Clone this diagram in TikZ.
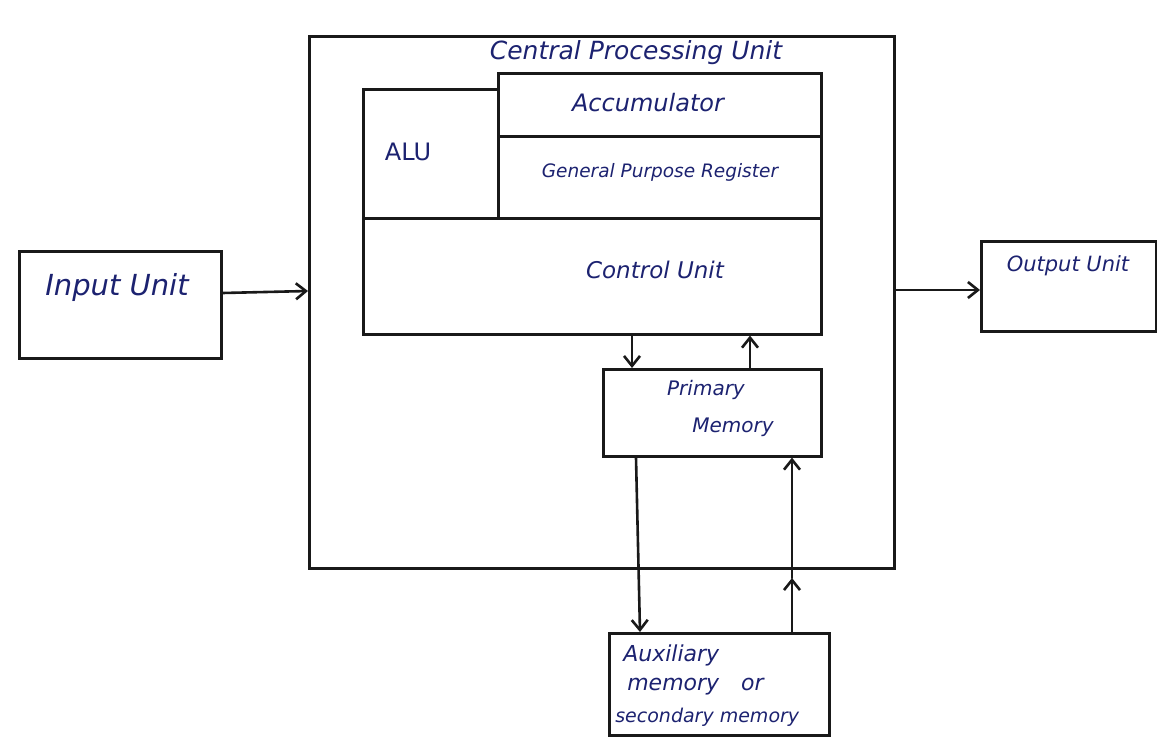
\documentclass[tikz,border=0pt]{standalone}
\usepackage{fontspec}
\setmainfont{DejaVu Sans}
\usetikzlibrary{arrows.meta,calc}
\definecolor{ink}{HTML}{1C2270}
\begin{document}
\begin{tikzpicture}[x=1pt,y=-1pt,
  line width=2.6pt, line cap=round,
  box/.style={draw=black!90, line width=2.6pt, rectangle, inner sep=0pt},
  lbl/.style={text=ink, font=\itshape\fontsize{25}{29}\selectfont, inner sep=0pt},
  arr/.style={-{Straight Barb[length=10pt,width=16pt]}, line width=2.6pt, draw=black!90}]
\useasboundingbox (0,0) rectangle (1157,747);
% outer boxes
\node[box, minimum width=202pt, minimum height=107pt, anchor=north west] (input) at (18,250) {};
\node[lbl, font=\itshape\fontsize{29}{33}\selectfont] (inputT) at (117,287) {Input Unit};
\node[box, minimum width=585pt, minimum height=532pt, anchor=north west] (cpu) at (308,35) {};
\node[lbl, font=\itshape\fontsize{25}{29}\selectfont] (cpuT) at (636,53) {Central Processing Unit};
\node[box, minimum width=175pt, minimum height=90pt, anchor=north west] (output) at (980,240) {};
\node[lbl, font=\itshape\fontsize{21}{25}\selectfont] (outputT) at (1068,266) {Output Unit};
% inner blocks
\node[box, minimum width=135pt, minimum height=129pt, anchor=north west] (alu) at (362,88) {};
\node[lbl, font=\fontsize{24}{28}\selectfont] (aluT) at (408,152) {ALU};
\node[box, minimum width=323pt, minimum height=63pt, anchor=north west] (acc) at (497,72) {};
\node[lbl, font=\itshape\fontsize{24}{28}\selectfont] (accT) at (648,103) {Accumulator};
\node[box, minimum width=323pt, minimum height=82pt, anchor=north west] (gpr) at (497,135) {};
\node[lbl, font=\itshape\fontsize{18.5}{22}\selectfont] (gprT) at (660,172) {General Purpose Register};
\node[box, minimum width=458pt, minimum height=116pt, anchor=north west] (cu) at (362,217) {};
\node[lbl, font=\itshape\fontsize{23}{27}\selectfont] (cuT) at (655,270) {Control Unit};
% memories
\node[box, minimum width=218pt, minimum height=87pt, anchor=north west] (pm) at (602,368) {};
\node[lbl, font=\itshape\fontsize{20}{24}\selectfont] (pmT1) at (706,390) {Primary};
\node[lbl, font=\itshape\fontsize{20}{24}\selectfont] (pmT2) at (733,427) {Memory};
\node[box, minimum width=220pt, minimum height=102pt, anchor=north west] (aux) at (608,632) {};
\node[lbl, font=\itshape\fontsize{22}{26}\selectfont, anchor=west] (auxT1) at (622,655) {Auxiliary};
\node[lbl, font=\itshape\fontsize{22}{26}\selectfont, anchor=west] (auxT2) at (626,687) {memory\quad or};
\node[lbl, font=\itshape\fontsize{19}{23}\selectfont, anchor=west] (auxT3) at (614,717) {secondary memory};
% connectors
\draw[arr] (input.east |- 0,293) -- (cpu.west |- 0,291);
\draw[arr] (cpu.east |- 0,290) -- (output.west |- 0,290);
\draw[arr] (cu.south -| 632,0) -- (pm.north -| 632,0);
\draw[arr] (pm.north -| 750,0) -- (cu.south -| 750,0);
\draw[arr] (pm.south -| 636,0) -- (aux.north -| 640,0);
\coordinate (mid) at (792,578);
\draw[arr] (aux.north -| 792,0) -- (mid);
\draw[arr] (mid) -- (pm.south -| 792,0);
\end{tikzpicture}
\end{document}
